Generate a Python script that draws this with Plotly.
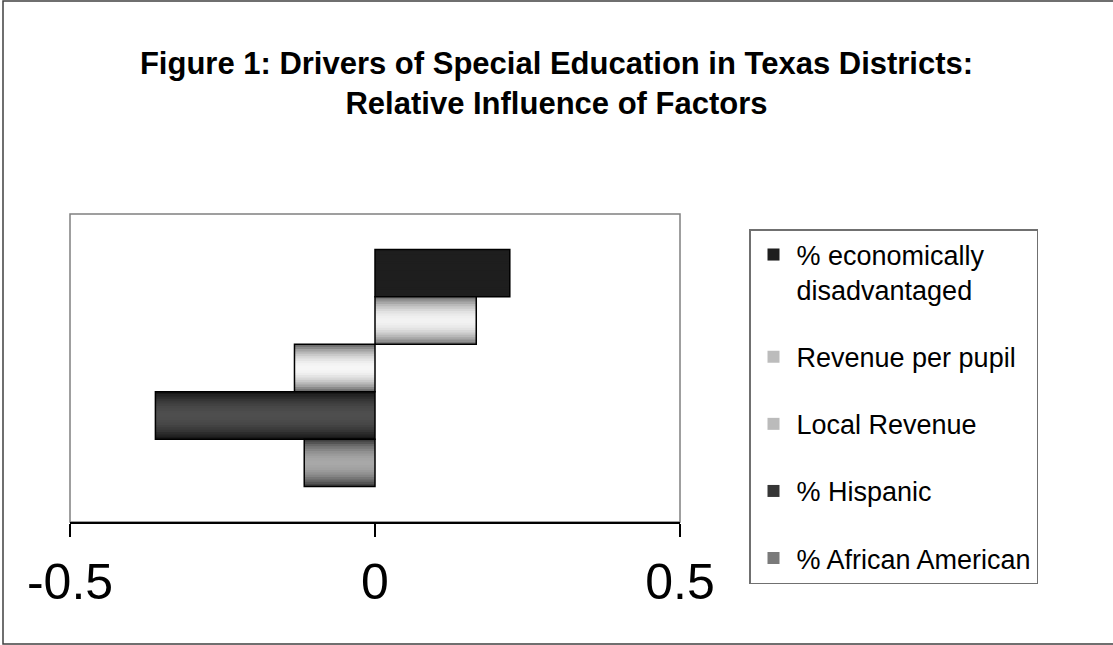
import plotly.graph_objects as go

# Factors (legend order, top bar first) and their relative influence
factors = [
    "% economically<br>disadvantaged",
    "Revenue per pupil",
    "Local Revenue",
    "% Hispanic",
    "% African American",
]
influence = [0.221, 0.166, -0.132, -0.360, -0.116]

tick_values = [-0.5, 0, 0.5]
tick_labels = ["-0.5", "0", "0.5"]

# Shading of each bar: grey level at the bar edges and at its centre line
edge_grey = [30, 108, 98, 18, 52]
centre_grey = [30, 242, 246, 78, 168]

W, H = 1113, 645
M_L, M_R, M_T, M_B = 70, 433, 214, 123
FONT = "Liberation Sans, Arial, sans-serif"

group_frac = 0.77          # share of the category band filled by the bar group
n_bands = 10               # shading steps from edge to centre
category = ["drivers"]


def grey(level):
    level = int(round(max(0, min(255, level))))
    return f"rgb({level},{level},{level})"


fig = go.Figure()
n = len(factors)
slot = group_frac / n
for i, (name, val) in enumerate(zip(factors, influence)):
    start = -group_frac / 2 + i * slot
    e, c = edge_grey[i], centre_grey[i]
    group = f"g{i}"
    # legend carrier with the average shade
    fig.add_trace(go.Bar(
        x=[val], y=category, orientation="h", name=name,
        offset=start, width=slot, legendgroup=group,
        marker=dict(color=grey(e + 0.6 * (c - e)), line=dict(width=0)),
        hoverinfo="skip",
    ))
    # nested bands: darker at the edges, lighter toward the middle
    for k in range(n_bands):
        f = 1 - k / n_bands
        w = slot * f
        t = (k + 0.5) / n_bands
        shade = e + (c - e) * (1 - (1 - t) ** 2)
        fig.add_trace(go.Bar(
            x=[val], y=category, orientation="h",
            offset=start + (slot - w) / 2, width=w,
            legendgroup=group, showlegend=False,
            marker=dict(color=grey(shade), line=dict(width=0)),
            hoverinfo="skip",
        ))
    # black outline on top
    fig.add_trace(go.Bar(
        x=[val], y=category, orientation="h",
        offset=start, width=slot, legendgroup=group, showlegend=False,
        marker=dict(color="rgba(0,0,0,0)", line=dict(color="black", width=1.5)),
        hovertemplate="%{x}<extra></extra>",
    ))


def px_x(p):
    return (p - M_L) / (W - M_L - M_R)


def px_y(p):
    return (H - M_B - p) / (H - M_T - M_B)


fig.update_layout(
    width=W, height=H,
    margin=dict(l=M_L, r=M_R, t=M_T, b=M_B),
    paper_bgcolor="white", plot_bgcolor="white",
    barmode="overlay",
    font=dict(family=FONT, color="black"),
    title=dict(
        text="<b>Figure 1: Drivers of Special Education in Texas Districts:<br>Relative Influence of Factors</b>",
        font=dict(family=FONT, size=31, color="black"),
        x=0.5, xref="container", xanchor="center",
        y=1 - 74 / H, yref="container", yanchor="middle",
    ),
    xaxis=dict(
        range=[-0.5, 0.5], tickvals=tick_values, ticktext=tick_labels,
        showgrid=False, zeroline=False,
        showline=True, linecolor="black", linewidth=1.5,
        ticks="outside", ticklen=13, tickwidth=1.5, tickcolor="black",
        tickfont=dict(family=FONT, size=50, color="black"),
        ticklabelstandoff=2,
    ),
    yaxis=dict(
        type="category", range=[0.5, -0.5],
        showticklabels=False, showgrid=False, zeroline=False, showline=False,
        ticks="",
    ),
    legend=dict(
        x=px_x(749), y=px_y(229), xanchor="left", yanchor="top",
        xref="paper", yref="paper",
        bgcolor="white", bordercolor="#707070", borderwidth=1.5,
        font=dict(family=FONT, size=27, color="black"),
        traceorder="grouped", tracegroupgap=29,
        itemwidth=36, valign="top",
        maxheight=620,
        itemclick=False, itemdoubleclick=False,
    ),
    shapes=[
        # plot area frame (left, top, right)
        dict(type="rect", xref="paper", yref="paper", x0=0, x1=1, y0=0, y1=1,
             line=dict(color="#808080", width=1.5), layer="below"),
        # outer chart border
        dict(type="rect", xref="paper", yref="paper",
             x0=px_x(3), x1=px_x(W + 4), y0=px_y(644), y1=px_y(1),
             line=dict(color="#404040", width=1.5), layer="below"),
    ],
    showlegend=True,
)

fig.write_html("out.html")
